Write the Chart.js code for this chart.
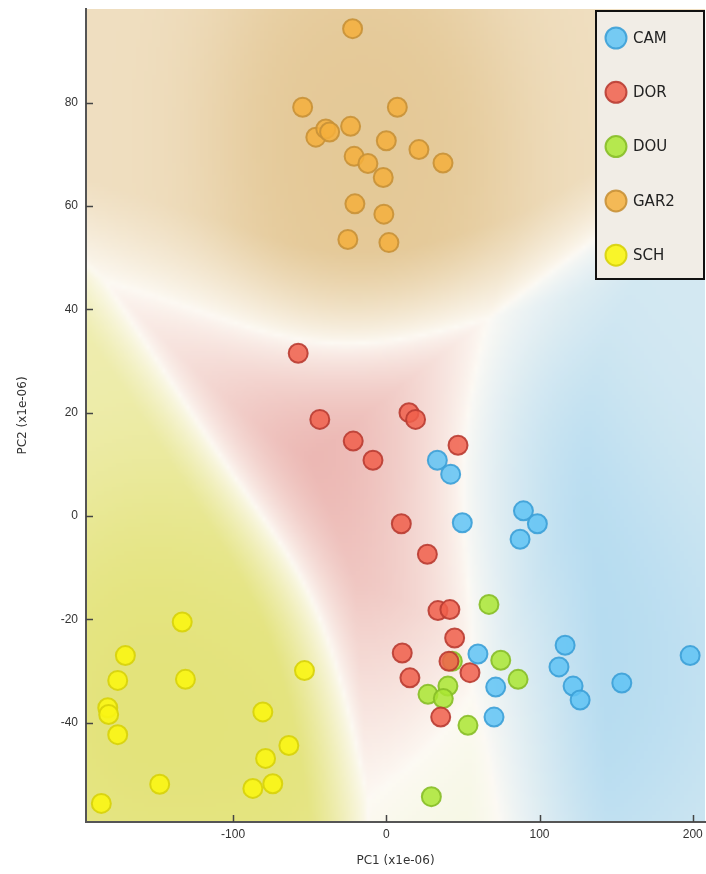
<!DOCTYPE html>
<html>
<head>
<meta charset="utf-8">
<script src="https://cdn.jsdelivr.net/npm/chart.js@4.4.1/dist/chart.umd.min.js"></script>
<style>
html, body { margin: 0; padding: 0; background: #fff; overflow: hidden; }
canvas { display: block; }
</style>
</head>
<body>
<canvas id="pcaChart" width="706" height="874"></canvas>
<script>
// groups and PCA scores (x1e-06)
const classes = ['CAM', 'DOR', 'DOU', 'GAR2', 'SCH'];

const camX = [33.3, 42, 49.6, 89.5, 98.6, 87.3, 59.8, 71.4, 70.3, 116.7, 112.7, 121.9, 126.5, 153.7, 198.3];
const camY = [10.8, 8.1, -1.3, 1.0, -1.5, -4.5, -26.7, -33.1, -38.9, -25.0, -29.2, -32.9, -35.6, -32.3, -27.0];

const dorX = [-57.5, -43.4, 14.8, 19.1, -21.6, -8.7, 46.8, 9.8, 26.8, 33.7, 41.5, 44.6, 10.4, 40.9, 54.6, 15.4, 35.5];
const dorY = [31.5, 18.7, 20.0, 18.7, 14.5, 10.8, 13.7, -1.5, -7.4, -18.3, -18.1, -23.6, -26.5, -28.1, -30.3, -31.3, -38.9];

const douX = [67, 43.1, 74.7, 86, 40.2, 27.2, 37.2, 53.3, 29.4];
const douY = [-17.1, -28.1, -27.9, -31.6, -32.9, -34.5, -35.3, -40.5, -54.3];

const garX = [-22, -54.6, -46, -39.5, -37, -23.3, -21, -12, -2, 0, 7.2, 21.3, 37, -20.5, -1.6, -25.1, 1.7];
const garY = [94.3, 79.1, 73.3, 74.9, 74.3, 75.4, 69.6, 68.2, 65.5, 72.6, 79.1, 70.9, 68.3, 60.4, 58.4, 53.5, 52.9];

const schX = [-133.2, -170.3, -175.3, -131.1, -53.4, -181.8, -181.2, -175.3, -80.6, -63.6, -78.8, -147.9, -74.1, -87.1, -186];
const schY = [-20.5, -27.0, -31.8, -31.6, -29.9, -37.1, -38.4, -42.3, -37.9, -44.4, -46.9, -51.9, -51.8, -52.7, -55.6];

const xTicks = [-100, 0, 100, 200];
const yTicks = [-40, -20, 0, 20, 40, 60, 80];

const seriesX = [camX, dorX, douX, garX, schX];
const seriesY = [camY, dorY, douY, garY, schY];

const fillColors = ['rgba(95,195,245,0.85)', 'rgba(240,95,75,0.85)', 'rgba(170,230,50,0.85)', 'rgba(245,175,60,0.85)', 'rgba(250,245,20,0.9)'];
const edgeColors = ['rgba(60,160,215,0.9)', 'rgba(185,60,50,0.9)', 'rgba(135,190,40,0.9)', 'rgba(200,145,55,0.9)', 'rgba(215,210,10,0.9)'];
// background tint of each class region at full strength, and how far each region reaches
const regionTints = [[178, 218, 240], [233, 172, 168], [228, 241, 190], [228, 200, 150], [226, 226, 118]];
const regionWeights = [1.3, 1.05, 1.0, 1.05, 1.2];

const datasets = classes.map((name, i) => ({
    label: name,
    data: seriesX[i].map((x, j) => ({ x: x, y: seriesY[i][j] })),
    backgroundColor: fillColors[i],
    borderColor: edgeColors[i],
    borderWidth: 2,
    pointRadius: 9.5,
    pointHoverRadius: 9.5
}));

// soft class regions, classified from the points themselves (kernel vote)
const regionPlugin = {
    id: 'regions',
    beforeDraw(chart) {
        const { ctx, chartArea: a, scales } = chart;
        const step = 4;
        const w = Math.ceil((a.right - a.left) / step), h = Math.ceil((a.bottom - a.top) / step);
        const pts = [];
        classes.forEach((c, i) => seriesX[i].forEach((x, j) => {
            pts.push({ c: i, px: scales.x.getPixelForValue(x), py: scales.y.getPixelForValue(seriesY[i][j]) });
        }));
        const off = document.createElement('canvas');
        off.width = w; off.height = h;
        const octx = off.getContext('2d');
        const img = octx.createImageData(w, h);
        const s2 = 2 * 70 * 70, ky = 0.6;
        for (let gy = 0; gy < h; gy++) {
            for (let gx = 0; gx < w; gx++) {
                const X = a.left + gx * step + step / 2, Y = a.top + gy * step + step / 2;
                const d = [0, 0, 0, 0, 0];
                const minD = [Infinity, Infinity, Infinity, Infinity, Infinity];
                pts.forEach(p => {
                    const dd = (p.px - X) ** 2 + (ky * (p.py - Y)) ** 2;
                    d[p.c] += Math.exp(-dd / s2);
                    if (dd < minD[p.c]) minD[p.c] = dd;
                });
                for (let k = 0; k < 5; k++) d[k] = regionWeights[k] * (d[k] + 1e-3 * Math.exp(-Math.sqrt(minD[k]) / 40));
                let tot = 0, b1 = 0, b2 = -1;
                for (let k = 0; k < 5; k++) tot += d[k];
                for (let k = 1; k < 5; k++) if (d[k] > d[b1]) b1 = k;
                for (let k = 0; k < 5; k++) if (k !== b1 && (b2 < 0 || d[k] > d[b2])) b2 = k;
                const margin = (d[b1] - d[b2]) / tot;
                let t = Math.min(1, margin * 1.5) ** 0.75;
                t *= 0.55 + 0.45 * (1 - Math.exp(-d[b1] / 4));
                const base = [253, 250, 244], tint = regionTints[b1];
                const o = (gy * w + gx) * 4;
                for (let k = 0; k < 3; k++) img.data[o + k] = base[k] + (tint[k] - base[k]) * t;
                img.data[o + 3] = 255;
            }
        }
        octx.putImageData(img, 0, 0);
        ctx.save();
        ctx.beginPath();
        ctx.rect(a.left, a.top, a.right - a.left, a.bottom - a.top);
        ctx.clip();
        ctx.imageSmoothingEnabled = true;
        ctx.drawImage(off, a.left, a.top, w * step, h * step);
        ctx.restore();
    },
    afterDraw(chart) {
        const { ctx, chartArea: a, scales } = chart;
        ctx.save();
        // inward tick marks
        ctx.strokeStyle = '#444';
        ctx.lineWidth = 1.5;
        ctx.beginPath();
        scales.y.ticks.forEach(t => {
            const y = Math.round(scales.y.getPixelForValue(t.value)) + 0.5;
            ctx.moveTo(a.left, y); ctx.lineTo(a.left + 7, y);
        });
        scales.x.ticks.forEach(t => {
            const x = Math.round(scales.x.getPixelForValue(t.value)) + 0.5;
            ctx.moveTo(x, a.bottom); ctx.lineTo(x, a.bottom - 7);
        });
        ctx.stroke();

        // legend box, top right inside the plot
        const bx = a.right - 109, by = a.top + 2, bw = 108, bh = 268;
        ctx.fillStyle = 'rgb(241,237,230)';
        ctx.fillRect(bx, by, bw, bh);
        ctx.strokeStyle = '#111';
        ctx.lineWidth = 2;
        ctx.strokeRect(bx, by, bw, bh);
        ctx.font = '15px "DejaVu Sans"';
        ctx.textBaseline = 'middle';
        classes.forEach((name, i) => {
            const cy = by + 27 + i * 54.3;
            ctx.beginPath();
            ctx.arc(bx + 20, cy, 10.5, 0, Math.PI * 2);
            ctx.fillStyle = fillColors[i];
            ctx.fill();
            ctx.lineWidth = 2;
            ctx.strokeStyle = edgeColors[i];
            ctx.stroke();
            ctx.fillStyle = '#222';
            ctx.fillText(name, bx + 37, cy + 1);
        });
        ctx.restore();
    }
};

new Chart(document.getElementById('pcaChart'), {
    type: 'scatter',
    data: { datasets: datasets },
    options: {
        responsive: false,
        animation: false,
        layout: { autoPadding: false, padding: { top: 9, right: 1, left: 0, bottom: 0 } },
        plugins: {
            legend: { display: false },
            tooltip: { enabled: false }
        },
        scales: {
            x: {
                type: 'linear',
                min: -196, max: 208,
                afterFit: s => { s.height = 52; s.paddingLeft = 0; s.paddingRight = 0; },
                afterBuildTicks: s => { s.ticks = xTicks.map(v => ({ value: v })); },
                grid: { display: false, drawTicks: false },
                border: { display: true, color: '#555', width: 2 },
                ticks: { padding: 5, color: '#333', font: { family: '"Liberation Sans", Arial', size: 12 } },
                title: { display: true, text: 'PC1 (x1e-06)', color: '#333', padding: { top: 4, bottom: 6 }, font: { family: '"DejaVu Sans"', size: 12 } }
            },
            y: {
                type: 'linear',
                min: -59.2, max: 98.1,
                afterFit: s => { s.width = 86; s.paddingTop = 0; s.paddingBottom = 0; },
                afterBuildTicks: s => { s.ticks = yTicks.map(v => ({ value: v })); },
                grid: { display: false, drawTicks: false },
                border: { display: true, color: '#555', width: 2 },
                ticks: { padding: 8, color: '#333', font: { family: '"Liberation Sans", Arial', size: 12 } },
                title: { display: true, text: 'PC2 (x1e-06)', color: '#333', padding: { top: 16, bottom: 4 }, font: { family: '"DejaVu Sans"', size: 12 } }
            }
        }
    },
    plugins: [regionPlugin]
});
</script>
</body>
</html>
